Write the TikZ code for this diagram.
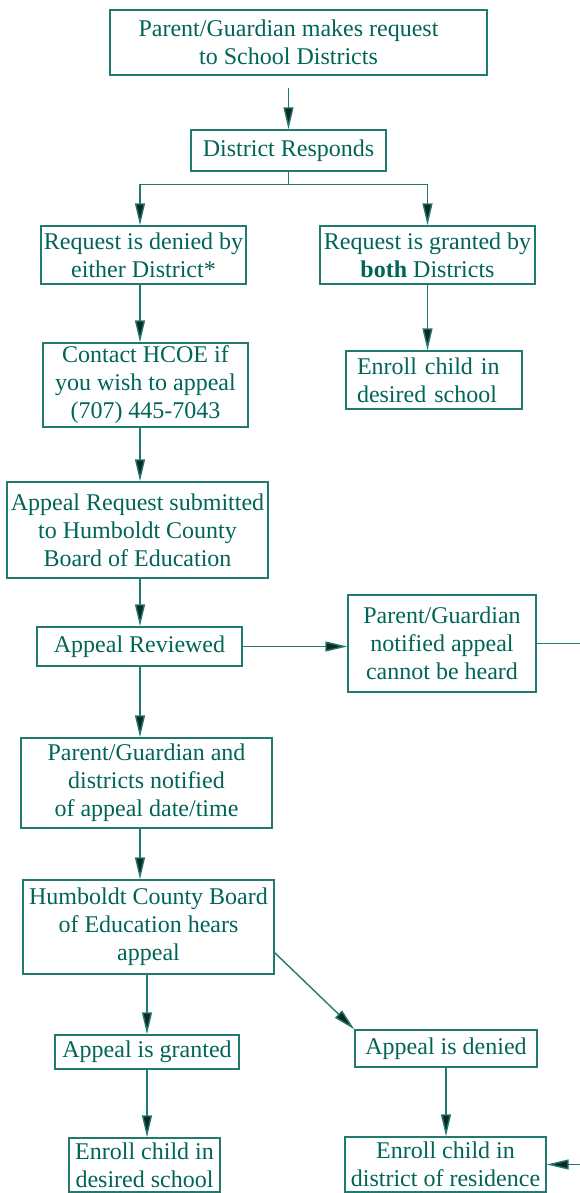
\documentclass[tikz,border=0pt]{standalone}
\usepackage{fontspec}
\setmainfont{Liberation Serif}
\usepackage{tikz}
\usetikzlibrary{positioning, arrows.meta}

\definecolor{hteal}{RGB}{0,100,86}
\definecolor{hline}{RGB}{32,122,110}
\definecolor{hhead}{RGB}{14,40,36}

\tikzset{
	box/.style={rectangle, draw=hline, line width=0.7pt, text=hteal, inner sep=0, align=center, font=\fontsize{12}{14}\selectfont},
	arr/.style={draw=hline, line width=0.7pt, -{Triangle[length=11pt, width=5pt, fill=hhead]}},
	link/.style={draw=hline, line width=0.7pt}
}

\begin{document}
\begin{tikzpicture}[x=0.5pt, y=-0.5pt]
	\useasboundingbox (0,0) rectangle (579,1193);
	\node[box, minimum width=188.5pt, minimum height=32.5pt] at(298.5, 42.5) (ask) {Parent/Guardian makes request\hspace*{10pt}\\to School Districts\hspace*{10pt}};
	\node[box, minimum width=97.5pt, minimum height=20.5pt] at(288.5, 150.5) (responds) {District Responds};
	\node[box, minimum width=102.5pt, minimum height=29pt] at(143.5, 255) (denied) {Request is denied by\\either District*};
	\node[box, minimum width=107.5pt, minimum height=29pt] at(427.5, 255) (granted) {Request is granted by\\\textbf{both} Districts};
	\node[box, minimum width=102.5pt, minimum height=42pt] at(145.5, 385) (hcoe) {Contact HCOE if\\you wish to appeal\\(707) 445-7043};
	\node[box, align=left, text width=77pt, inner xsep=5.5pt, minimum height=29pt] at(434, 380) (enrollA) {Enroll child in\\desired school};
	\node[box, minimum width=130.5pt, minimum height=48pt] at(137.5, 530) (submit) {Appeal Request submitted\\to Humboldt County\\Board of Education};
	\node[box, minimum width=102.5pt, minimum height=19.5pt] at(139.5, 646.5) (review) {Appeal Reviewed};
	\node[box, minimum width=94pt, minimum height=48.5pt] at(442, 643.5) (noheard) {Parent/Guardian\\notified appeal\\cannot be heard};
	\node[box, minimum width=125.5pt, minimum height=45pt] at(146.5, 783) (dated) {Parent/Guardian and\\districts notified\\of appeal date/time};
	\node[box, minimum width=125.5pt, minimum height=47pt] at(148.5, 927) (hears) {Humboldt County Board\\of Education hears\\appeal};
	\node[box, minimum width=92pt, minimum height=17pt] at(147, 1052) (apgrant) {Appeal is granted};
	\node[box, minimum width=91pt, minimum height=18.5pt] at(446, 1048.5) (apdeny) {Appeal is denied};
	\node[box, minimum width=75.5pt, minimum height=27pt] at(144.5, 1165) (enrollB) {Enroll child in\\desired school};
	\node[box, minimum width=100.5pt, minimum height=27.5pt] at(445.5, 1164.5) (resid) {Enroll child in\\district of residence};
	\coordinate (rim) at(586, 0);
	\coordinate (left) at(140, 0);
	\draw[arr, shorten <=6pt] (ask.south -| responds.north) -- (responds.north);
	\draw[link] (responds.south) -- ++(0, 13) coordinate (fork);
	\draw[arr] (fork) -| (denied.north -| left);
	\draw[arr] (fork) -| (granted.north);
	\path
		(denied.south -| left) edge[arr] (hcoe.north -| left)
		(granted.south) edge[arr] (granted.south |- enrollA.north)
		(hcoe.south -| left) edge[arr] (submit.north -| left)
		(submit.south -| left) edge[arr] (review.north -| left)
		(review.south -| left) edge[arr] (dated.north -| left)
		(dated.south -| left) edge[arr] (hears.north -| left)
		(apgrant.south) edge[arr] (apgrant.south |- enrollB.north)
		(apdeny.south) edge[arr] (apdeny.south |- resid.north)
		(review.east) edge[arr] (review.east -| noheard.west);
	\draw[arr] (hears.south -| apgrant.north) -- (apgrant.north);
	\draw[arr] ([yshift=11pt]hears.south east) -- (apdeny.north west);
	\draw[arr] (noheard.east) -- (noheard.east -| rim) |- (resid.east);
\end{tikzpicture}
\end{document}
